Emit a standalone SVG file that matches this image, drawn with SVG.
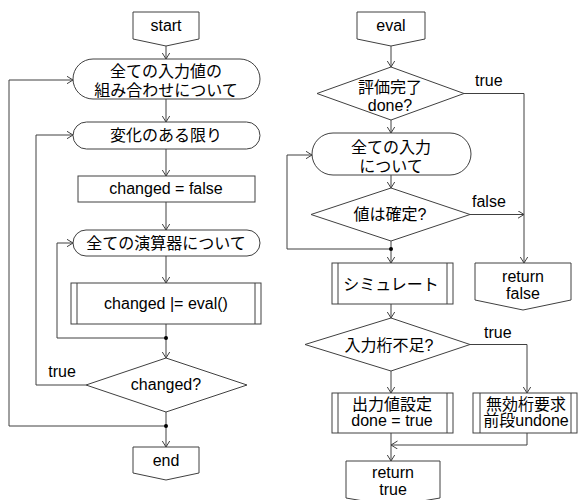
<svg xmlns="http://www.w3.org/2000/svg" width="579" height="500" viewBox="0 0 579 500">
<defs>
<style>
.s{fill:#fff;stroke:#404040;stroke-width:1}
.c{fill:none;stroke:#404040;stroke-width:1}
.t{font-family:"Liberation Sans","Noto Sans CJK JP",sans-serif;font-size:16px;fill:#000;text-anchor:middle}
.l{font-family:"Liberation Sans","Noto Sans CJK JP",sans-serif;font-size:16px;fill:#000}
</style>
<marker id="a" markerUnits="userSpaceOnUse" markerWidth="10" markerHeight="10" refX="6.5" refY="4" orient="auto">
<path d="M0,0 L6.5,4 L0,8" fill="none" stroke="#404040" stroke-width="1"/>
</marker>
</defs>
<rect width="579" height="500" fill="#fff"/>

<g id="connectors" class="c">
<path d="M166,46 V59" marker-end="url(#a)"/>
<path d="M166,99 V122" marker-end="url(#a)"/>
<path d="M166,149 V176" marker-end="url(#a)"/>
<path d="M166,202 V230" marker-end="url(#a)"/>
<path d="M166,256 V283" marker-end="url(#a)"/>
<path d="M166,324 V358" marker-end="url(#a)"/>
<path d="M166,338 H57 V243 H73" marker-end="url(#a)"/>
<path d="M86,385 H36 V135 H73" marker-end="url(#a)"/>
<path d="M166,412 V447" marker-end="url(#a)"/>
<path d="M166,426 H9 V80 H73" marker-end="url(#a)"/>
<path d="M391,46 V67" marker-end="url(#a)"/>
<path d="M391,120 V133" marker-end="url(#a)"/>
<path d="M391,175 V188" marker-end="url(#a)"/>
<path d="M391,241 V263" marker-end="url(#a)"/>
<path d="M391,249 H287 V155 H312" marker-end="url(#a)"/>
<path d="M464,93.5 H524 V263" marker-end="url(#a)"/>
<path d="M470,214.5 H524" marker-end="url(#a)"/>
<path d="M391,304 V318" marker-end="url(#a)"/>
<path d="M470,344.5 H527 V393" marker-end="url(#a)"/>
<path d="M391,371 V393" marker-end="url(#a)"/>
<path d="M391,433 V461" marker-end="url(#a)"/>
<path d="M527,433 V445 H391" marker-end="url(#a)"/>
</g>
<g id="dots" fill="#000">
<circle cx="166" cy="338" r="2"/>
<circle cx="166" cy="426" r="2"/>
<circle cx="391" cy="249" r="2"/>
</g>

<g id="start">
<path class="s" d="M133,12 H199 V39 L166,46 L133,39 Z"/>
<text class="t" x="166" y="31">start</text>
</g>
<g id="loop-inputs">
<rect class="s" x="73" y="59" width="187" height="40" rx="20"/>
<text class="t" x="166" y="77">全ての入力値の</text>
<text class="t" x="166" y="96">組み合わせについて</text>
</g>
<g id="loop-changed">
<rect class="s" x="73" y="122" width="187" height="27" rx="13.5"/>
<text class="t" x="166" y="141">変化のある限り</text>
</g>
<g id="set-false">
<rect class="s" x="78" y="176" width="177" height="26"/>
<text class="t" x="166" y="194">changed = false</text>
</g>
<g id="loop-ops">
<rect class="s" x="73" y="230" width="187" height="26" rx="13"/>
<text class="t" x="166" y="249">全ての演算器について</text>
</g>
<g id="call-eval">
<rect class="s" x="71" y="283" width="190" height="41"/>
<path class="c" d="M77,283 V324 M255,283 V324"/>
<text class="t" x="166" y="309">changed |= eval()</text>
</g>
<g id="dec-changed">
<path class="s" d="M166,358 L247,385 L166,412 L86,385 Z"/>
<text class="t" x="166" y="390">changed?</text>
<text class="t" x="62" y="377">true</text>
</g>
<g id="end">
<path class="s" d="M133,447 H199 V473 L166,480 L133,473 Z"/>
<text class="t" x="166" y="466">end</text>
</g>

<g id="eval">
<path class="s" d="M357,12 H425 V39 L391,46 L357,39 Z"/>
<text class="t" x="391" y="31">eval</text>
</g>
<g id="dec-done">
<path class="s" d="M391,67 L464,93.5 L391,120 L317,93.5 Z"/>
<text class="t" x="390" y="93">評価完了</text>
<text class="t" x="390" y="111">done?</text>
<text class="l" x="475" y="86">true</text>
</g>
<g id="loop-all-inputs">
<rect class="s" x="312" y="133" width="159" height="42" rx="21"/>
<text class="t" x="391" y="153">全ての入力</text>
<text class="t" x="391" y="172">について</text>
</g>
<g id="dec-fixed">
<path class="s" d="M391,188 L470,214.5 L391,241 L311,214.5 Z"/>
<text class="t" x="390" y="220">値は確定?</text>
<text class="l" x="472" y="207">false</text>
</g>
<g id="ret-false">
<path class="s" d="M475,263 H571 V300 L523,310 L475,300 Z"/>
<text class="t" x="523" y="282">return</text>
<text class="t" x="523" y="299">false</text>
</g>
<g id="simulate">
<rect class="s" x="332" y="263" width="121" height="41"/>
<path class="c" d="M338,263 V304 M447,263 V304"/>
<text class="t" x="391" y="290">シミュレート</text>
</g>
<g id="dec-short">
<path class="s" d="M391,318 L470,344.5 L391,371 L305,344.5 Z"/>
<text class="t" x="389" y="351">入力桁不足?</text>
<text class="l" x="484" y="338">true</text>
</g>
<g id="set-output">
<rect class="s" x="332" y="393" width="121" height="40"/>
<path class="c" d="M338,393 V433 M447,393 V433"/>
<text class="t" x="392" y="410">出力値設定</text>
<text class="t" x="392" y="426">done = true</text>
</g>
<g id="request-invalid">
<rect class="s" x="473" y="393" width="104" height="40"/>
<path class="c" d="M480,393 V433 M571,393 V433"/>
<text class="t" x="526" y="410">無効桁要求</text>
<text class="t" x="526" y="426">前段undone</text>
</g>
<g id="ret-true">
<path class="s" d="M346,461 H440 V498 L393,506 L346,498 Z"/>
<text class="t" x="393" y="478">return</text>
<text class="t" x="393" y="495">true</text>
</g>
</svg>
